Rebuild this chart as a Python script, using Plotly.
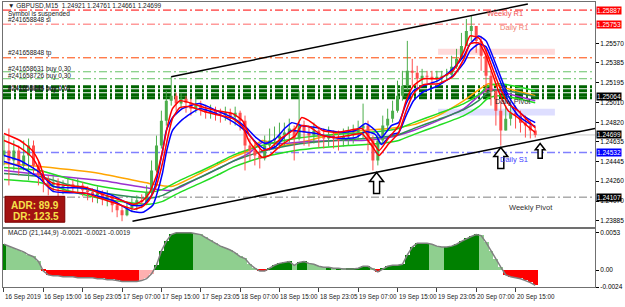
import plotly.graph_objects as go

FONT = "Liberation Sans"

# ---------------- data ----------------
time_labels = ["16 Sep 2019", "16 Sep 15:00", "16 Sep 23:05", "17 Sep 07:00", "17 Sep 15:00",
               "17 Sep 23:05", "18 Sep 07:00", "18 Sep 15:00", "18 Sep 23:05", "19 Sep 07:00",
               "19 Sep 15:00", "19 Sep 23:05", "20 Sep 07:00", "20 Sep 15:00"]
time_label_bars = [0, 32, 64, 96, 128, 160, 192, 224, 256, 288, 320, 352, 384, 416]

bar_index = list(range(0, 433, 4))
first_open = 1.24504
closes = [1.24551, 1.24456, 1.24551, 1.24409, 1.24504, 1.24598, 1.24409, 1.24314, 1.24267, 1.24219,
          1.24248, 1.24191, 1.24210, 1.24229, 1.24210, 1.24219, 1.24172, 1.24153, 1.24124, 1.24143,
          1.24096, 1.24115, 1.24030, 1.23982, 1.23935, 1.24001, 1.24030, 1.24077, 1.24058, 1.24153,
          1.24361, 1.24598, 1.24835, 1.25025, 1.25072, 1.24997, 1.25044, 1.25006, 1.24949, 1.24987,
          1.24949, 1.24911, 1.24930, 1.24902, 1.24892, 1.24911, 1.24873, 1.24911, 1.24835, 1.24598,
          1.24551, 1.24504, 1.24475, 1.24598, 1.24646, 1.24665, 1.24693, 1.24722, 1.24760, 1.24665,
          1.24788, 1.24722, 1.24693, 1.24741, 1.24684, 1.24665, 1.24693, 1.24665, 1.24646, 1.24684,
          1.24703, 1.24722, 1.24760, 1.24788, 1.24646, 1.24456, 1.24646, 1.24788, 1.24854, 1.24930,
          1.25072, 1.25167, 1.25309, 1.25290, 1.25234, 1.25262, 1.25253, 1.25234, 1.25253, 1.25262,
          1.25271, 1.25347, 1.25423, 1.25546, 1.25689, 1.25736, 1.25594, 1.25452, 1.25262, 1.25120,
          1.24930, 1.24741, 1.24854, 1.24911, 1.24883, 1.24816, 1.24788, 1.24741, 1.24699]
highs = [1.24693, 1.24760, 1.24646, 1.24598, 1.24646, 1.24665, 1.24646, 1.24456, 1.24361, 1.24314,
         1.24305, 1.24286, 1.24267, 1.24286, 1.24267, 1.24286, 1.24248, 1.24210, 1.24191, 1.24210,
         1.24172, 1.24172, 1.24124, 1.24077, 1.24030, 1.24058, 1.24096, 1.24124, 1.24134, 1.24219,
         1.24456, 1.24693, 1.24930, 1.25120, 1.25253, 1.25101, 1.25101, 1.25072, 1.25044, 1.25063,
         1.25025, 1.24987, 1.24987, 1.24968, 1.24949, 1.24968, 1.24949, 1.24968, 1.24930, 1.24883,
         1.24665, 1.24627, 1.24598, 1.24693, 1.24760, 1.24779, 1.24816, 1.24816, 1.24854, 1.24788,
         1.25120, 1.24835, 1.24788, 1.24816, 1.24779, 1.24760, 1.24779, 1.24741, 1.24741, 1.24760,
         1.24779, 1.24797, 1.24835, 1.24997, 1.24835, 1.24693, 1.24722, 1.24883, 1.24949, 1.25025,
         1.25215, 1.25309, 1.25594, 1.25423, 1.25357, 1.25328, 1.25309, 1.25309, 1.25309, 1.25309,
         1.25328, 1.25452, 1.25518, 1.25670, 1.25802, 1.25831, 1.25708, 1.25641, 1.25518, 1.25309,
         1.25120, 1.25025, 1.24978, 1.25006, 1.24978, 1.24930, 1.24883, 1.24835, 1.24779]
lows = [1.24409, 1.24219, 1.24361, 1.24314, 1.24361, 1.24267, 1.24314, 1.24219, 1.24153, 1.24124,
        1.24153, 1.24115, 1.24134, 1.24153, 1.24153, 1.24143, 1.24115, 1.24077, 1.24058, 1.24049,
        1.24030, 1.24020, 1.23963, 1.23916, 1.23878, 1.23925, 1.23963, 1.23982, 1.24001, 1.24030,
        1.24124, 1.24342, 1.24570, 1.24788, 1.24978, 1.24930, 1.24949, 1.24911, 1.24883, 1.24911,
        1.24883, 1.24854, 1.24854, 1.24835, 1.24816, 1.24835, 1.24797, 1.24788, 1.24741, 1.24361,
        1.24456, 1.24409, 1.24380, 1.24456, 1.24551, 1.24570, 1.24570, 1.24598, 1.24627, 1.24456,
        1.24646, 1.24598, 1.24589, 1.24617, 1.24579, 1.24570, 1.24589, 1.24570, 1.24551, 1.24589,
        1.24598, 1.24617, 1.24646, 1.24665, 1.24551, 1.24361, 1.24409, 1.24627, 1.24741, 1.24816,
        1.24911, 1.25025, 1.25120, 1.25167, 1.25139, 1.25177, 1.25186, 1.25177, 1.25196, 1.25196,
        1.25215, 1.25262, 1.25328, 1.25423, 1.25546, 1.25594, 1.25480, 1.25309, 1.25101, 1.24978,
        1.24788, 1.24598, 1.24741, 1.24788, 1.24760, 1.24722, 1.24674, 1.24665, 1.24674]

# moving averages read at sample bars
red_bars = [0, 13, 23, 29, 33, 40, 51, 67, 78, 88, 100, 106, 113, 118, 124, 129, 133, 137, 143, 151,
            161, 173, 186, 194, 199, 205, 210, 216, 226, 237, 242, 248, 259, 270, 280, 291, 299, 305,
            313, 321, 327, 333, 341, 353, 365, 374, 379, 386, 392, 402, 410, 418, 426, 432]
red_fast = [1.24712, 1.24646, 1.24551, 1.24428, 1.24295, 1.24238, 1.24219, 1.24200, 1.24143, 1.24105,
            1.24058, 1.24039, 1.24077, 1.24143, 1.24314, 1.24551, 1.24788, 1.24949, 1.25025, 1.25006,
            1.24968, 1.24930, 1.24902, 1.24835, 1.24712, 1.24617, 1.24551, 1.24570, 1.24674, 1.24760,
            1.24864, 1.24835, 1.24741, 1.24722, 1.24741, 1.24760, 1.24646, 1.24551, 1.24674, 1.24788,
            1.25025, 1.25167, 1.25234, 1.25234, 1.25309, 1.25499, 1.25641, 1.25622, 1.25499, 1.25186,
            1.24997, 1.24930, 1.24835, 1.24769]
red_slow = [1.24646, 1.24579, 1.24485, 1.24361, 1.24238, 1.24181, 1.24162, 1.24143, 1.24096, 1.24058,
            1.24011, 1.23992, 1.24020, 1.24077, 1.24219, 1.24437, 1.24665, 1.24854, 1.24959, 1.24968,
            1.24930, 1.24892, 1.24854, 1.24779, 1.24646, 1.24551, 1.24485, 1.24504, 1.24608, 1.24693,
            1.24788, 1.24779, 1.24693, 1.24674, 1.24693, 1.24712, 1.24598, 1.24504, 1.24617, 1.24722,
            1.24930, 1.25091, 1.25177, 1.25186, 1.25253, 1.25423, 1.25565, 1.25575, 1.25452, 1.25120,
            1.24930, 1.24864, 1.24779, 1.24722]

blue_bars = [0, 13, 29, 40, 67, 88, 104, 113, 121, 124, 129, 132, 137, 145, 159, 173, 186, 197, 205,
             213, 221, 229, 234, 242, 254, 264, 275, 286, 294, 302, 307, 315, 321, 327, 333, 341, 353,
             365, 374, 379, 386, 392, 402, 410, 418, 426, 432]
blue_fast = [1.24504, 1.24456, 1.24342, 1.24210, 1.24191, 1.24124, 1.24030, 1.24030, 1.24143, 1.24267,
             1.24551, 1.24741, 1.24864, 1.24949, 1.24997, 1.24930, 1.24864, 1.24769, 1.24674, 1.24617,
             1.24665, 1.24769, 1.24816, 1.24788, 1.24769, 1.24741, 1.24722, 1.24741, 1.24807, 1.24741,
             1.24674, 1.24788, 1.24816, 1.24997, 1.25120, 1.25167, 1.25215, 1.25328, 1.25452, 1.25565,
             1.25641, 1.25594, 1.25309, 1.25072, 1.24930, 1.24854, 1.24816]
blue_slow = [1.24447, 1.24399, 1.24286, 1.24162, 1.24143, 1.24077, 1.23973, 1.23963, 1.24030, 1.24124,
             1.24342, 1.24532, 1.24741, 1.24845, 1.24949, 1.24902, 1.24826, 1.24731, 1.24627, 1.24561,
             1.24589, 1.24693, 1.24741, 1.24731, 1.24712, 1.24684, 1.24665, 1.24674, 1.24731, 1.24703,
             1.24608, 1.24703, 1.24722, 1.24883, 1.25025, 1.25110, 1.25167, 1.25262, 1.25385, 1.25499,
             1.25565, 1.25537, 1.25253, 1.25025, 1.24883, 1.24816, 1.24779]

green_bars = [0, 29, 51, 78, 100, 118, 129, 143, 161, 173, 186, 199, 216, 237, 259, 280, 305, 321,
              333, 353, 374, 386, 394, 402, 418, 432]
green_upper = [1.24390, 1.24361, 1.24286, 1.24210, 1.24172, 1.24153, 1.24181, 1.24267, 1.24361, 1.24428,
               1.24504, 1.24561, 1.24617, 1.24665, 1.24693, 1.24712, 1.24731, 1.24760, 1.24816, 1.24902,
               1.24997, 1.25082, 1.25167, 1.25186, 1.25158, 1.25120]
green_mid = [1.24333, 1.24304, 1.24229, 1.24153, 1.24115, 1.24096, 1.24124, 1.24210, 1.24304, 1.24371,
             1.24447, 1.24504, 1.24560, 1.24608, 1.24636, 1.24655, 1.24674, 1.24703, 1.24759, 1.24845,
             1.24940, 1.25025, 1.25110, 1.25129, 1.25101, 1.25063]
green_lower = [1.24276, 1.24247, 1.24172, 1.24096, 1.24058, 1.24039, 1.24067, 1.24153, 1.24247, 1.24314,
               1.24390, 1.24447, 1.24503, 1.24551, 1.24579, 1.24598, 1.24617, 1.24646, 1.24702, 1.24788,
               1.24883, 1.24968, 1.25053, 1.25072, 1.25044, 1.25006]

mtf_bars = [0, 29, 78, 118, 137, 161, 186, 199, 210, 226, 248, 270, 291, 313, 333, 353, 374, 394, 410, 432]
orange_ma = [1.24428, 1.24399, 1.24333, 1.24238, 1.24210, 1.24342, 1.24485, 1.24551, 1.24646, 1.24598,
             1.24646, 1.24712, 1.24741, 1.24760, 1.24797, 1.24883, 1.25025, 1.25186, 1.25139, 1.25072]
purple_ma = [1.24361, 1.24323, 1.24267, 1.24191, 1.24172, 1.24305, 1.24447, 1.24523, 1.24627, 1.24617,
             1.24636, 1.24646, 1.24646, 1.24674, 1.24741, 1.24835, 1.24949, 1.25139, 1.25091, 1.25025]

macd_hist = [0.00367, 0.00340, 0.00313, 0.00285, 0.00258, 0.00217, 0.00190, 0.00122, -0.00014, -0.00068,
             -0.00082, -0.00082, -0.00095, -0.00095, -0.00095, -0.00109, -0.00109, -0.00109, -0.00109, -0.00122,
             -0.00122, -0.00136, -0.00136, -0.00149, -0.00163, -0.00163, -0.00163, -0.00163, -0.00149, -0.00122,
             -0.00054, 0.00068, 0.00272, 0.00408, 0.00503, 0.00530, 0.00530, 0.00530, 0.00530, 0.00516,
             0.00503, 0.00462, 0.00421, 0.00381, 0.00340, 0.00313, 0.00285, 0.00245, 0.00190, 0.00163,
             0.00082, 0.00027, -0.00014, -0.00014, 0.00027, 0.00068, 0.00095, 0.00109, 0.00122, 0.00068,
             0.00109, 0.00122, 0.00095, 0.00082, 0.00054, 0.00041, 0.00041, 0.00027, 0.00027, 0.00014,
             0.00014, 0.00014, 0.00027, 0.00054, 0.00054, 0.00014, -0.00027, 0.00014, 0.00054, 0.00068,
             0.00068, 0.00082, 0.00217, 0.00326, 0.00381, 0.00381, 0.00381, 0.00367, 0.00340, 0.00326,
             0.00326, 0.00340, 0.00367, 0.00408, 0.00448, 0.00476, 0.00503, 0.00489, 0.00394, 0.00272,
             0.00149, 0.00041, -0.00068, -0.00095, -0.00109, -0.00122, -0.00149, -0.00177, -0.00217]

level_prices = [1.25887, 1.25753, 1.25433, 1.25300, 1.25234, 1.25158, 1.25120, 1.25082, 1.25053,
                1.24699, 1.24532, 1.24107]
level_styles = [("#ff0000", 1, "8px,3px,2px,3px"), ("#ff9a9a", 1.5, "8px,3px,2px,3px"),
                ("#ff4500", 1, "8px,3px,2px,3px"), ("#66c266", 1, "8px,3px,2px,3px"),
                ("#66c266", 1, "8px,3px,2px,3px"), ("#006400", 3, "8px,3px,2px,3px"),
                ("#006400", 3, "8px,3px,2px,3px"), ("#006400", 3, "8px,3px,2px,3px"),
                ("#006400", 3, "8px,3px,2px,3px"), ("#c8c8c8", 1, "solid"),
                ("#8080ff", 1.5, "8px,3px,2px,3px"), ("#808080", 1, "8px,3px,2px,3px")]

zone_bars = [353, 448]
pink_zone = [1.25461, 1.25518]
lavender_zone = [1.24883, 1.24949]

upper_trend_bars = [136, 426]
upper_trend_prices = [1.25253, 1.25945]
lower_trend_bars = [104.5, 480.6]
lower_trend_prices = [1.23878, 1.24760]

arrow_bars = [303, 404, 436]
arrow_prices = [1.24342, 1.24579, 1.24617]
arrow_scale = [1.0, 1.0, 0.7]

price_ticks = [1.25570, 1.25385, 1.25195, 1.25010, 1.24820, 1.24635, 1.24445, 1.24260, 1.24070, 1.23885]
box_prices = [1.25887, 1.25753, 1.25064, 1.24699, 1.24532, 1.24107]
box_colors = ["#ff0000", "#ff0000", "#000000", "#000000", "#0000ff", "#000000"]

level_names = ["Weekly R1", "Daily R1", "Daily Pivot", "Daily S1", "Weekly Pivot"]
level_name_bars = [391, 402, 398, 402, 409]
level_name_prices = [1.25859, 1.25717, 1.25016, 1.24466, 1.24011]
level_name_colors = ["#f05050", "#f08070", "#303030", "#4040ff", "#303030"]

order_labels = ["Symbol is suspended", "#241658848 sl", "#241658848 tp", "#241658631 buy 0.30",
                "#241658726 buy 0.30", "#241658844 buy 0.01", "#241658845 buy 0.01"]
order_label_py = [13, 19, 52, 68, 75, 87, 88]

# ---------------- figure ----------------
fig = go.Figure()

ML, MR, MT, MB = 3, 28, 1, 20
W, H = 625, 307
PW, PH = W - ML - MR, H - MT - MB


def xp(px):
    return (px - ML) / PW


def yp(py):
    return (H - MB - py) / PH


def segs(xs, a, b):
    X, Y = [], []
    for x, p, q in zip(xs, a, b):
        X += [x, x, None]
        Y += [p, q, None]
    return X, Y


opens = [first_open] + closes[:-1]

# zones
for zp, zc in ((pink_zone, "#ffd9d9"), (lavender_zone, "#dedeff")):
    fig.add_shape(type="rect", xref="x", yref="y", x0=zone_bars[0], x1=zone_bars[1],
                  y0=zp[0], y1=zp[1], fillcolor=zc, line=dict(width=0), layer="below")

# horizontal levels
for p, (c, w, d) in zip(level_prices, level_styles):
    fig.add_shape(type="line", xref="x domain", yref="y", x0=0, x1=1, y0=p, y1=p,
                  line=dict(color=c, width=w, dash=d), layer="below")

# MTF MAs (behind)
for vals, col in ((orange_ma, "#ffa500"), (purple_ma, "#9b30d0")):
    fig.add_trace(go.Scatter(x=mtf_bars, y=vals, mode="lines", line=dict(color=col, width=1.5, shape="spline", smoothing=0.5),
                             hoverinfo="skip", xaxis="x", yaxis="y"))

# green envelope
for vals, col in ((green_upper, "#22dd22"), (green_mid, "#2e8b57"), (green_lower, "#22dd22")):
    fig.add_trace(go.Scatter(x=green_bars, y=vals, mode="lines", line=dict(color=col, width=1.5, shape="spline", smoothing=0.5),
                             hoverinfo="skip", xaxis="x", yaxis="y"))

# candles
up_idx = [i for i in range(len(closes)) if closes[i] >= opens[i]]
dn_idx = [i for i in range(len(closes)) if closes[i] < opens[i]]
for idx, col in ((up_idx, "#4cae4c"), (dn_idx, "#ff4d4d")):
    xs = [bar_index[i] for i in idx]
    X, Y = segs(xs, [lows[i] for i in idx], [highs[i] for i in idx])
    fig.add_trace(go.Scatter(x=X, y=Y, mode="lines", line=dict(color=col, width=1), hoverinfo="skip",
                             xaxis="x", yaxis="y"))
    X, Y = segs(xs, [opens[i] for i in idx], [closes[i] for i in idx])
    fig.add_trace(go.Scatter(x=X, y=Y, mode="lines", line=dict(color=col, width=3), hoverinfo="skip",
                             xaxis="x", yaxis="y"))

# blue and red MAs
for bars, vals, col in ((blue_bars, blue_fast, "#0000ff"), (blue_bars, blue_slow, "#0000ff"),
                        (red_bars, red_fast, "#ff0000"), (red_bars, red_slow, "#ff0000")):
    fig.add_trace(go.Scatter(x=bars, y=vals, mode="lines", line=dict(color=col, width=1.5, shape="spline", smoothing=0.5),
                             hoverinfo="skip", xaxis="x", yaxis="y"))

# trend lines
for bx, by in ((upper_trend_bars, upper_trend_prices), (lower_trend_bars, lower_trend_prices)):
    fig.add_trace(go.Scatter(x=bx, y=by, mode="lines", line=dict(color="black", width=1.5),
                             hoverinfo="skip", xaxis="x", yaxis="y", cliponaxis=True))

# arrows
for b, p, s in zip(arrow_bars, arrow_prices, arrow_scale):
    pts = [(0, 0), (-7, -9), (-3, -9), (-3, -21), (3, -21), (3, -9), (7, -9)]
    path = "M" + " L".join(f"{x * s:.1f},{y * s:.1f}" for x, y in pts) + " Z"
    fig.add_shape(type="path", xref="x", yref="y", xsizemode="pixel", ysizemode="pixel",
                  xanchor=b, yanchor=p, path=path, fillcolor="white",
                  line=dict(color="black", width=1.5), layer="above")

# MACD
macd_colors = []
for i, v in enumerate(macd_hist):
    prev = macd_hist[i - 1] if i > 0 else v
    if v >= 0:
        macd_colors.append("#008000" if v >= prev else "#8fcf8f")
    else:
        macd_colors.append("#ff0000" if v <= prev else "#ffb0b0")
fig.add_trace(go.Bar(x=bar_index, y=macd_hist, width=4, marker=dict(color=macd_colors, line=dict(width=0)),
                     hoverinfo="skip", xaxis="x2", yaxis="y2"))
fig.add_trace(go.Scatter(x=bar_index, y=macd_hist, mode="lines", line=dict(color="#808080", width=1.5),
                         hoverinfo="skip", xaxis="x2", yaxis="y2"))

axis_common = dict(showgrid=False, zeroline=False, showline=True, linecolor="#707070", linewidth=1, mirror=True)
fig.update_layout(
    width=W, height=H, margin=dict(l=ML, r=MR, t=MT, b=MB),
    paper_bgcolor="white", plot_bgcolor="white", showlegend=False, bargap=0,
    font=dict(family=FONT, size=7, color="black"),
    xaxis=dict(domain=[0, 1], anchor="y", range=[-0.8, 480.6], showticklabels=False, ticks="", **axis_common),
    yaxis=dict(domain=[yp(227), 1], anchor="x", side="right", range=[1.23821, 1.25964],
               tickvals=price_ticks, ticktext=[f"{v:.5f}" for v in price_ticks],
               ticks="outside", ticklen=3, tickcolor="black", tickfont=dict(size=6.5, family=FONT), **axis_common),
    xaxis2=dict(domain=[0, 1], anchor="y2", matches="x", showticklabels=False,
                tickvals=time_label_bars, ticks="outside", ticklen=4, tickcolor="#404040", **axis_common),
    yaxis2=dict(domain=[0, yp(229)], anchor="x2", side="right", range=[-0.0024, 0.0058],
                tickvals=[0.0053, 0.0, -0.0024], ticktext=["0.0053", "0.00", "-0.0024"],
                ticks="outside", ticklen=3, tickcolor="black", tickfont=dict(size=6.5, family=FONT), **axis_common),
)

ann = []
# time labels
for b, t in zip(time_label_bars, time_labels):
    ann.append(dict(x=b, y=0, xref="x2", yref="paper", text=t, showarrow=False, xanchor="left",
                    yanchor="top", yshift=-4, xshift=-1, font=dict(size=6.3, color="#202020")))
# price boxes
for p, c in zip(box_prices, box_colors):
    ann.append(dict(x=1, y=p, xref="paper", yref="y", text=f"{p:.5f}", showarrow=False, xanchor="left",
                    yanchor="middle", xshift=1, bgcolor=c, borderpad=0, font=dict(size=6.5, color="white")))
# level names
for t, b, p, c in zip(level_names, level_name_bars, level_name_prices, level_name_colors):
    ann.append(dict(x=b, y=p, xref="x", yref="y", text=t, showarrow=False, xanchor="left",
                    yanchor="middle", font=dict(size=7.5, color=c)))
# order labels
for t, py in zip(order_labels, order_label_py):
    ann.append(dict(x=xp(6), y=yp(py), xref="paper", yref="paper", text=t, showarrow=False,
                    xanchor="left", yanchor="middle", font=dict(size=6.5, color="#202020")))
# header
ann.append(dict(x=xp(6), y=yp(5), xref="paper", yref="paper",
                text="▼ GBPUSD,M15  1.24921 1.24761 1.24661 1.24699", showarrow=False,
                xanchor="left", yanchor="middle", font=dict(size=6.5, color="#202020")))
ann.append(dict(x=xp(6), y=yp(233), xref="paper", yref="paper",
                text="MACD (21,144,9) -0.0021 -0.0021 -0.0019", showarrow=False,
                xanchor="left", yanchor="middle", font=dict(size=6.5, color="#202020")))
# ADR box
fig.add_shape(type="rect", xref="paper", yref="paper", x0=xp(5), x1=xp(65), y0=yp(222), y1=yp(196),
              fillcolor="#a31212", line=dict(color="#7a0000", width=1), layer="above")
ann.append(dict(x=xp(35), y=yp(205), xref="paper", yref="paper", text="<b>ADR: 89.9</b>", showarrow=False,
                xanchor="center", yanchor="middle", font=dict(size=10, color="#f6e24a")))
ann.append(dict(x=xp(36), y=yp(216), xref="paper", yref="paper", text="<b>DR: 123.5</b>", showarrow=False,
                xanchor="center", yanchor="middle", font=dict(size=10, color="#f6e24a")))
fig.update_layout(annotations=ann)

fig.write_html("out.html")
